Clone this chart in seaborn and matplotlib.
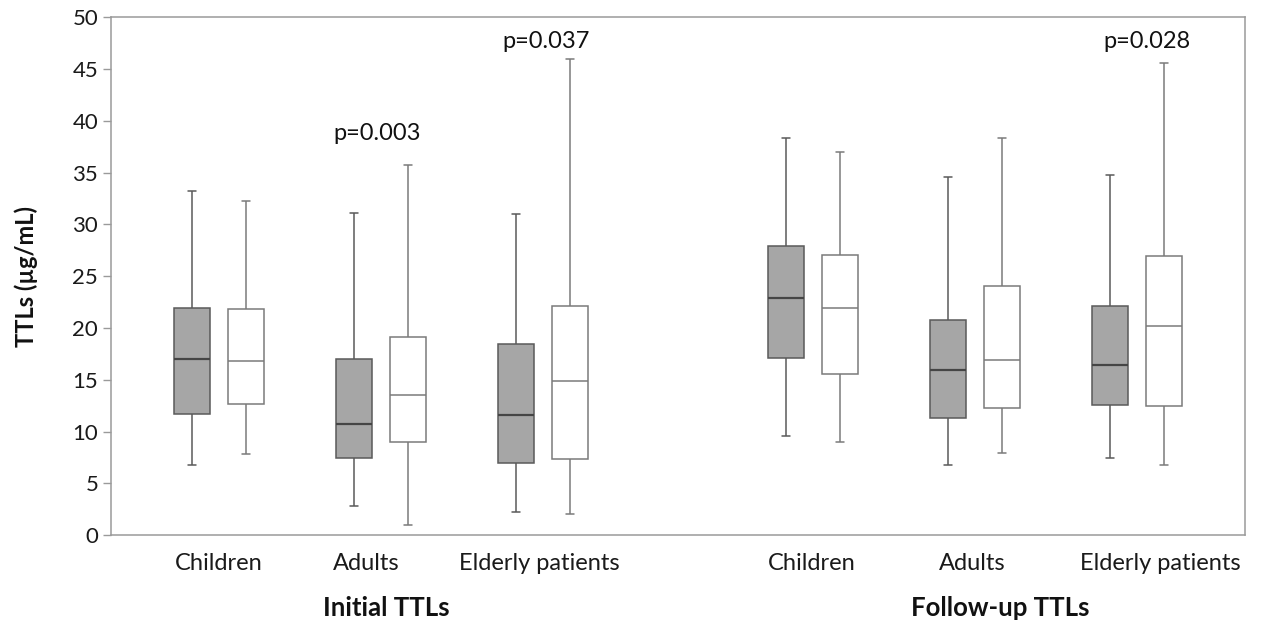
import numpy as np
import pandas as pd
import matplotlib
matplotlib.use("Agg")
import matplotlib.pyplot as plt
import matplotlib.transforms as mtransforms
import seaborn as sns

sns.set_theme(style="white")
plt.rcParams["font.family"] = ["Lato", "DejaVu Sans"]

# Daten
phases = ["Initial TTLs", "Follow-up TTLs"]
groups = ["Children", "Adults", "Elderly patients"]
series = ["grey", "white"]

# Reihenfolge: Initial (Children, Adults, Elderly), Follow-up (Children, Adults, Elderly)
grey_min = [6.8, 2.8, 2.2, 9.6, 6.8, 7.4]
grey_q1 = [11.7, 7.4, 7.0, 17.1, 11.3, 12.6]
grey_med = [17.0, 10.7, 11.6, 22.9, 15.9, 16.4]
grey_q3 = [21.9, 17.0, 18.5, 27.9, 20.8, 22.1]
grey_max = [33.2, 31.1, 31.0, 38.4, 34.6, 34.8]

white_min = [7.8, 1.0, 2.0, 9.0, 7.9, 6.8]
white_q1 = [12.7, 9.0, 7.3, 15.6, 12.3, 12.5]
white_med = [16.8, 13.5, 14.9, 21.9, 16.9, 20.2]
white_q3 = [21.8, 19.1, 22.1, 27.1, 24.1, 27.0]
white_max = [32.3, 35.7, 46.0, 37.0, 38.4, 45.6]

p_labels = ["p=0.003", "p=0.037", "p=0.028"]

# Layout
group_x = [0, 1, 2, 3.667, 4.667, 5.667]
box_offset = 0.1667
label_x = [0, 0.91, 1.98, 3.66, 4.65, 5.81]
phase_x = [1.03, 4.82]
p_x = [0.975, 2.02, 5.73]
p_y = [38.8, 47.7, 47.7]

stats = {
    "grey": [grey_min, grey_q1, grey_med, grey_q3, grey_max],
    "white": [white_min, white_q1, white_med, white_q3, white_max],
}

# 5 Werte pro Box -> Quartile exakt, Whisker = min/max
rows = []
for i in range(len(group_x)):
    for s, off in zip(series, [-box_offset, box_offset]):
        for col in stats[s]:
            rows.append({"x": group_x[i] + off, "series": s, "TTL": col[i]})
df = pd.DataFrame(rows)

fig = plt.figure(figsize=(12.62, 6.24), dpi=100)
ax = fig.add_axes([0.0877, 0.1426, 0.8988, 0.8294])

sns.boxplot(data=df, x="x", y="TTL", hue="series", native_scale=True, dodge=False,
            width=0.676, whis=np.inf, showfliers=False, legend=False,
            palette={"grey": "#a6a6a6", "white": "#ffffff"},
            linecolor="#6b6b6b", linewidth=1.1, ax=ax)

# Farben und Caps je Serie anpassen
edge_cols = ["#5a5a5a", "#7a7a7a"]
med_cols = ["#454545", "#7a7a7a"]
for cont, ec, mc in zip(ax.containers, edge_cols, med_cols):
    for b in cont.boxes:
        b.set_edgecolor(ec)
    for ln in list(cont.whiskers) + list(cont.caps):
        ln.set_color(ec)
    for ln in cont.medians:
        ln.set_color(mc)
        ln.set_linewidth(1.6 if mc == "#454545" else 1.1)
    for cap in cont.caps:
        xd = cap.get_xdata()
        c = np.mean(xd)
        cap.set_xdata([c - 0.025, c + 0.025])

ax.set_xlim(-0.6685, 6.333)
ax.set_ylim(0, 50)
ax.set_yticks(range(0, 51, 5))
ax.set_xticks(label_x)
ax.set_xticklabels(groups + groups)
ax.tick_params(axis="x", length=0, pad=13, labelsize=17, labelcolor="#1a1a1a")
ax.tick_params(axis="y", direction="out", length=6, width=1, color="#9a9a9a",
               pad=3, labelsize=16, labelcolor="#1a1a1a", left=True)
ax.set_xlabel("")
ax.set_ylabel("TTLs (µg/mL)", fontsize=17, fontweight="bold", color="#111111")
ax.yaxis.set_label_coords(-0.064, 0.5)

for sp in ax.spines.values():
    sp.set_visible(True)
    sp.set_color("#9a9a9a")
    sp.set_linewidth(1.1)

trans = mtransforms.blended_transform_factory(ax.transData, ax.transAxes)
for px, name in zip(phase_x, phases):
    ax.text(px, -0.141, name, transform=trans, ha="center", va="center",
            fontsize=18.5, fontweight="bold", color="#111111")

for px, py, lab in zip(p_x, p_y, p_labels):
    ax.text(px, py, lab, ha="center", va="center", fontsize=17, color="#111111")

fig.savefig("out.png", dpi=100)
